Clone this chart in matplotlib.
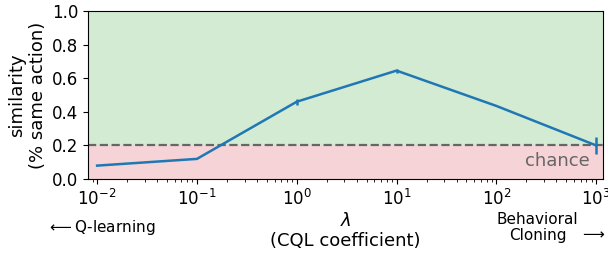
import numpy as np
import matplotlib.pyplot as plt

lambdas = [1e-2, 1e-1, 1e0, 1e1, 1e2, 1e3]
similarity = [0.08, 0.12, 0.46, 0.645, 0.435, 0.20]
sim_err = [0.0, 0.0, 0.017, 0.012, 0.0, 0.048]
chance = 0.2

fig, ax = plt.subplots(figsize=(6.08, 2.54), dpi=100)
fig.subplots_adjust(left=0.145, right=0.992, top=0.957, bottom=0.295)

ax.axhspan(chance, 1.0, color='#d3ebd3', zorder=0)
ax.axhspan(0.0, chance, color='#f6d3d6', zorder=0)
ax.axhline(chance, color='#666666', linestyle='--', lw=1.6, zorder=1)
ax.text(10**2.94, 0.105, 'chance', color='#666666', fontsize=13, ha='right', va='center')

ax.errorbar(lambdas, similarity, yerr=sim_err, color='#1f77b4', lw=1.8,
            elinewidth=1.8, zorder=3)

ax.set_xscale('log')
ax.set_xlim(10**-2.09, 10**3.07)
ax.set_ylim(0, 1)
ax.set_yticks([0, 0.2, 0.4, 0.6, 0.8, 1.0])
ax.tick_params(labelsize=12)
ax.set_ylabel('similarity\n(% same action)', fontsize=13, labelpad=4)
ax.set_xlabel('$\\lambda$\n(CQL coefficient)', fontsize=13, labelpad=2)

ax.text(-0.079, -0.29, '$\\longleftarrow$Q-learning', transform=ax.transAxes,
        fontsize=11, ha='left', va='center')
ax.text(0.952, -0.29, 'Behavioral\nCloning', transform=ax.transAxes,
        fontsize=11, ha='right', va='center', multialignment='center',
        linespacing=1.1)
ax.text(1.006, -0.325, '$\\longrightarrow$', transform=ax.transAxes,
        fontsize=11, ha='right', va='center')

fig.savefig('out.png', dpi=100)
